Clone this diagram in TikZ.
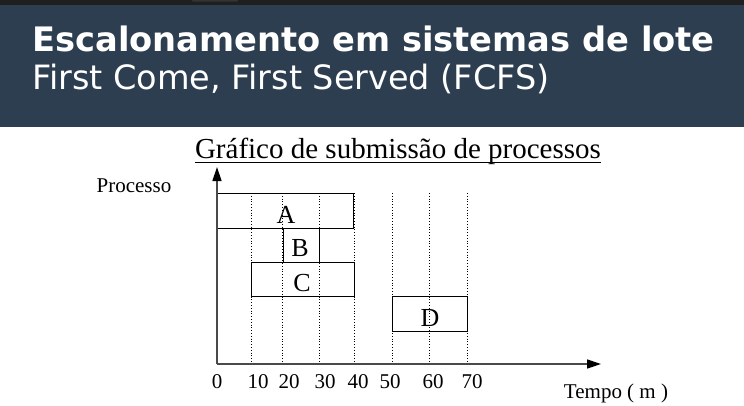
\documentclass[tikz,border=0pt]{standalone}
\usepackage{fontspec}
\setmainfont{Liberation Serif}
\newfontfamily\headfont{DejaVu Sans}
\usetikzlibrary{arrows.meta}
\definecolor{headbg}{HTML}{2D3E50}
\definecolor{topbar}{HTML}{1F1F1F}
\definecolor{axisgray}{HTML}{4A4A4A}

\begin{document}
\begin{tikzpicture}[x=1pt,y=-1pt,
  bar/.style={draw=black, line width=1.1pt, inner sep=0pt, anchor=north west},
  gridline/.style={dotted, line width=0.8pt, black},
  axis/.style={line width=1.4pt, draw=axisgray, -{Triangle[length=14pt,width=9pt,color=black]}},
  lbl/.style={font=\fontsize{21}{25}\selectfont, anchor=base, inner sep=0pt},
  letter/.style={font=\fontsize{26}{30}\selectfont, anchor=base, inner sep=0pt},
  head/.style={font=\headfont\fontsize{33.5}{38}\selectfont, text=white, anchor=base west, inner sep=0pt}]
\useasboundingbox (0,0) rectangle (744,405);
\fill[white] (0,0) rectangle (744,405);

% header band
\fill[headbg] (0,5) rectangle (744,127);
\fill[topbar] (0,0) rectangle (744,5);
\fill[black!80!white, rounded corners=1pt] (192,-1) rectangle (238,1.5);
\node[head, font=\headfont\bfseries\fontsize{33.7}{38}\selectfont] (title) at (32,51) {Escalonamento em sistemas de lote};
\node[head] (subtitle) at (32,89) {First Come, First Served (FCFS)};

% chart caption
\node[font=\fontsize{29}{34}\selectfont, anchor=base, inner sep=0pt] (caption) at (398,158) {Gráfico de submissão de processos};
\draw[line width=1pt] ([yshift=-4.5pt]caption.base west) -- ([yshift=-4.5pt]caption.base east);

% dotted time marks
\foreach \x in {251,282.5,319,354,392,429,467}
  \draw[gridline] (\x,193) -- (\x,364);

% process bars
\node[bar, minimum width=136pt, minimum height=35pt] (A) at (217,193) {};
\node[bar, minimum width=36.5pt, minimum height=34pt] (B) at (282.5,228) {};
\node[bar, minimum width=103pt, minimum height=34pt] (C) at (251,262) {};
\node[bar, minimum width=75pt, minimum height=35pt] (D) at (392,296) {};
\node[letter] (la) at (286,223) {A};
\node[letter] (lb) at (300,256) {B};
\node[letter] (lc) at (302,291) {C};
\node[letter] (ld) at (430,326) {D};

% axes
\coordinate (O) at (217,364);
\coordinate (ytip) at (217,167);
\coordinate (xtip) at (601,364);
\draw[axis] (O) -- (ytip);
\draw[axis] (O) -- (xtip);

% axis labels
\node[lbl] (ylab) at (134,192) {Processo};
\node[lbl] (xlab) at (616,398) {Tempo ( m )};
\foreach \x/\t [count=\i] in {217/0,258/10,289/20,325/30,358/40,390/50,433/60,472/70}
  \node[lbl] (tick\i) at (\x,388) {\t};
\end{tikzpicture}
\end{document}
